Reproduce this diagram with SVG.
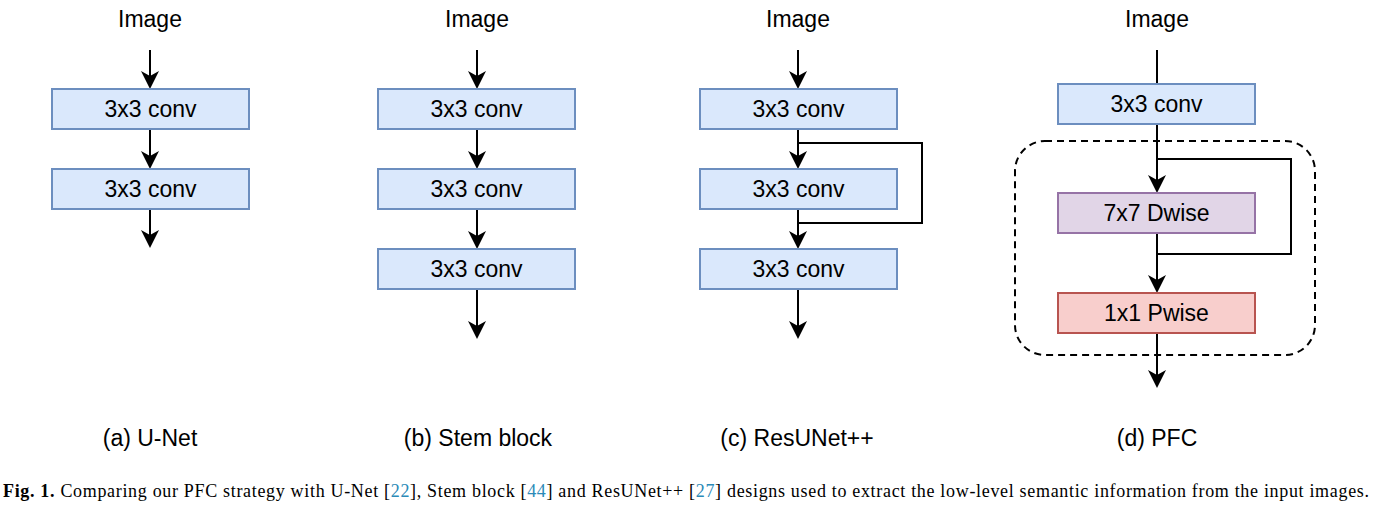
<svg xmlns="http://www.w3.org/2000/svg" width="1383" height="513" viewBox="0 0 1383 513">
<style>
.t{font-family:"Liberation Sans",Arial,Helvetica,sans-serif;font-size:23px;fill:#000;text-anchor:middle}
.blue{fill:#dae8fc;stroke:#6c8ebf;stroke-width:2}
.purple{fill:#e1d5e7;stroke:#9673a6;stroke-width:2}
.red{fill:#f8cecc;stroke:#b85450;stroke-width:2}
.c{fill:none;stroke:#000;stroke-width:2}
.cap{font-family:"Liberation Serif","Times New Roman",serif;font-size:18px;fill:#000}
.ref{fill:#2b8ab8}
</style>
<defs>
<marker id="ah" markerUnits="userSpaceOnUse" markerWidth="18" markerHeight="18" viewBox="0 0 18 18" refX="10" refY="9" orient="auto">
<path d="M0,0 L18,9 L0,18 L5,9 Z" fill="#000"/>
</marker>
</defs>
<rect width="1383" height="513" fill="#fff"/>

<g id="connectors">
<line class="c" x1="150" y1="50" x2="150" y2="81" marker-end="url(#ah)"/>
<line class="c" x1="150" y1="129" x2="150" y2="161" marker-end="url(#ah)"/>
<line class="c" x1="150" y1="209" x2="150" y2="240" marker-end="url(#ah)"/>

<line class="c" x1="477" y1="50" x2="477" y2="81" marker-end="url(#ah)"/>
<line class="c" x1="477" y1="129" x2="477" y2="161" marker-end="url(#ah)"/>
<line class="c" x1="477" y1="209" x2="477" y2="241" marker-end="url(#ah)"/>
<line class="c" x1="477" y1="289" x2="477" y2="331" marker-end="url(#ah)"/>

<line class="c" x1="798" y1="50" x2="798" y2="81" marker-end="url(#ah)"/>
<line class="c" x1="798" y1="129" x2="798" y2="161" marker-end="url(#ah)"/>
<line class="c" x1="798" y1="209" x2="798" y2="241" marker-end="url(#ah)"/>
<line class="c" x1="798" y1="289" x2="798" y2="331" marker-end="url(#ah)"/>
<path class="c" d="M798,143 H922 V223 H798"/>

<line class="c" x1="1157" y1="50" x2="1157" y2="84"/>
<line class="c" x1="1157" y1="124" x2="1157" y2="185" marker-end="url(#ah)"/>
<line class="c" x1="1157" y1="233" x2="1157" y2="285" marker-end="url(#ah)"/>
<line class="c" x1="1157" y1="333" x2="1157" y2="380" marker-end="url(#ah)"/>
<path class="c" d="M1157,159 H1291 V254 H1157"/>
</g>

<g id="labels-image">
<text class="t" x="150" y="27">Image</text>
<text class="t" x="477" y="27">Image</text>
<text class="t" x="798" y="27">Image</text>
<text class="t" x="1157" y="27">Image</text>
</g>

<g id="a-conv1"><rect class="blue" x="52" y="89" width="197" height="40"/><text class="t" x="150.5" y="117">3x3 conv</text></g>
<g id="a-conv2"><rect class="blue" x="52" y="169" width="197" height="40"/><text class="t" x="150.5" y="197">3x3 conv</text></g>

<g id="b-conv1"><rect class="blue" x="378" y="89" width="197" height="40"/><text class="t" x="476.5" y="117">3x3 conv</text></g>
<g id="b-conv2"><rect class="blue" x="378" y="169" width="197" height="40"/><text class="t" x="476.5" y="197">3x3 conv</text></g>
<g id="b-conv3"><rect class="blue" x="378" y="249" width="197" height="40"/><text class="t" x="476.5" y="277">3x3 conv</text></g>

<g id="c-conv1"><rect class="blue" x="700" y="89" width="197" height="40"/><text class="t" x="798.5" y="117">3x3 conv</text></g>
<g id="c-conv2"><rect class="blue" x="700" y="169" width="197" height="40"/><text class="t" x="798.5" y="197">3x3 conv</text></g>
<g id="c-conv3"><rect class="blue" x="700" y="249" width="197" height="40"/><text class="t" x="798.5" y="277">3x3 conv</text></g>

<g id="d-group"><rect x="1015" y="141" width="300" height="214" rx="30" ry="30" fill="none" stroke="#000" stroke-width="2" stroke-dasharray="7 5"/></g>
<g id="d-conv"><rect class="blue" x="1058" y="84" width="197" height="40"/><text class="t" x="1156.5" y="112">3x3 conv</text></g>
<g id="d-dwise"><rect class="purple" x="1058" y="193" width="197" height="40"/><text class="t" x="1156.5" y="221">7x7 Dwise</text></g>
<g id="d-pwise"><rect class="red" x="1058" y="293" width="197" height="40"/><text class="t" x="1156.5" y="321">1x1 Pwise</text></g>

<g id="sublabels">
<text class="t" x="150" y="446">(a) U-Net</text>
<text class="t" x="478" y="446">(b) Stem block</text>
<text class="t" x="797" y="446">(c) ResUNet++</text>
<text class="t" x="1157" y="446">(d) PFC</text>
</g>

<text class="cap" x="3" y="497" textLength="1366" lengthAdjust="spacing"><tspan font-weight="bold">Fig. 1.</tspan>  Comparing our PFC strategy with U-Net [<tspan class="ref">22</tspan>], Stem block [<tspan class="ref">44</tspan>] and ResUNet++ [<tspan class="ref">27</tspan>] designs used to extract the low-level semantic information from the input images.</text>
</svg>
